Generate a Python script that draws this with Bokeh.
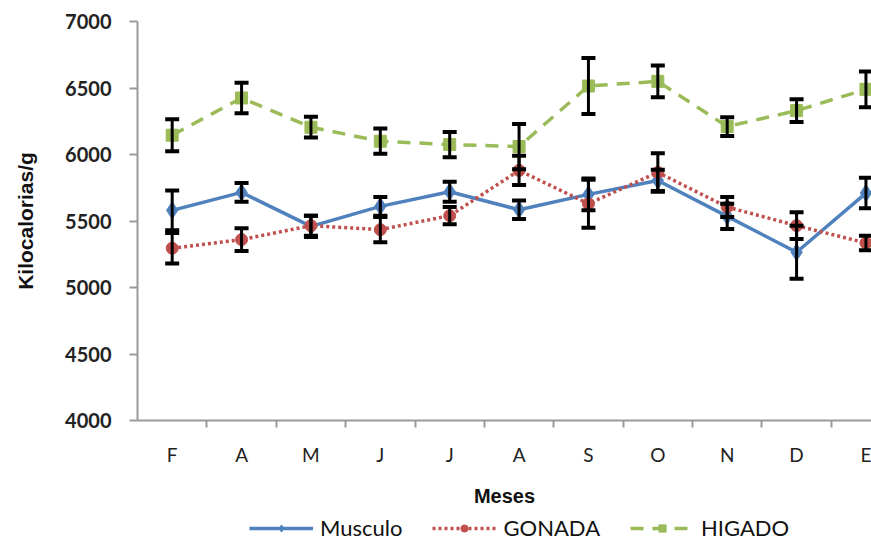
from bokeh.plotting import figure
from bokeh.layouts import column
from bokeh.models import (ColumnDataSource, Range1d, FixedTicker, Whisker, TeeHead,
                          Legend, LegendItem)
from bokeh.embed import file_html
from bokeh.resources import INLINE

months = ["F", "A", "M", "J", "J", "A", "S", "O", "N", "D", "E"]
musculo = [5580, 5715, 5460, 5610, 5720, 5585, 5700, 5805, 5535, 5265, 5710]
musculo_err = [150, 70, 80, 70, 75, 70, 120, 80, 95, 200, 115]
gonada = [5295, 5360, 5465, 5435, 5540, 5880, 5630, 5865, 5605, 5465, 5335]
gonada_err = [115, 85, 75, 95, 65, 110, 180, 145, 75, 100, 55]
higado = [6145, 6425, 6205, 6100, 6075, 6060, 6515, 6550, 6210, 6330, 6490]
higado_err = [120, 115, 78, 95, 95, 170, 210, 120, 70, 85, 135]
y_ticks = [4000, 4500, 5000, 5500, 6000, 6500, 7000]

x = list(range(len(months)))

p = figure(output_backend="svg", toolbar_location=None,
           width=871, height=510,
           x_range=Range1d(-0.5, 10.08), y_range=Range1d(4000, 7000),
           min_border_left=137, min_border_right=0, min_border_top=21,
           min_border_bottom=90)
p.outline_line_color = None
p.xgrid.visible = False
p.ygrid.visible = False
p.background_fill_color = "white"
p.border_fill_color = "white"

# axes
p.yaxis.ticker = FixedTicker(ticks=y_ticks)
p.yaxis.axis_line_color = "#9a9a9a"
p.yaxis.axis_line_width = 2
p.yaxis.major_tick_line_color = "#9a9a9a"
p.yaxis.major_tick_line_width = 2
p.yaxis.major_tick_out = 8
p.yaxis.major_tick_in = 0
p.yaxis.minor_tick_line_color = None
p.yaxis.major_label_text_font = "Lato"
p.yaxis.major_label_text_font_style = "bold"
p.yaxis.major_label_text_font_size = "20px"
p.yaxis.major_label_text_color = "#222222"
p.yaxis.major_label_standoff = 18
p.yaxis.axis_label = "Kilocalorias/g"
p.yaxis.axis_label_text_font = "Liberation Sans"
p.yaxis.axis_label_text_font_style = "bold"
p.yaxis.axis_label_text_font_size = "21px"
p.yaxis.axis_label_text_color = "#111111"
p.yaxis.axis_label_standoff = 25

boundaries = [i + 0.5 for i in range(len(months) - 1)]
p.xaxis.ticker = FixedTicker(ticks=x, minor_ticks=boundaries)
p.xaxis.major_label_overrides = {i: m for i, m in enumerate(months)}
p.xaxis.axis_line_color = "#9a9a9a"
p.xaxis.axis_line_width = 2
p.xaxis.major_tick_line_color = None
p.xaxis.major_tick_out = 0
p.xaxis.major_tick_in = 0
p.xaxis.minor_tick_line_color = "#9a9a9a"
p.xaxis.minor_tick_line_width = 2
p.xaxis.minor_tick_out = 7
p.xaxis.minor_tick_in = 0
p.xaxis.major_label_text_font = "Lato"
p.xaxis.major_label_text_font_size = "19px"
p.xaxis.major_label_text_color = "#222222"
p.xaxis.major_label_standoff = 15
p.xaxis.axis_label = "Meses"
p.xaxis.axis_label_text_font = "Liberation Sans"
p.xaxis.axis_label_text_font_style = "bold"
p.xaxis.axis_label_text_font_size = "20px"
p.xaxis.axis_label_text_color = "#111111"
p.xaxis.axis_label_standoff = 16

# separate strip for the legend
pl = figure(output_backend="svg", toolbar_location=None,
            width=871, height=35,
            x_range=Range1d(100, 101), y_range=Range1d(100, 101),
            min_border=0)
pl.axis.visible = False
pl.grid.visible = False
pl.outline_line_color = None

series = [
    ("Musculo", musculo, musculo_err, "#4F81BD", "solid", "diamond", 17),
    ("GONADA", gonada, gonada_err, "#C0504D", "3 3", "circle", 12),
    ("HIGADO", higado, higado_err, "#9BBB59", "13 9", "square", 12),
]

items = []
for name, vals, errs, color, dash, marker, size in series:
    src = ColumnDataSource(dict(
        x=x, y=vals,
        upper=[v + e for v, e in zip(vals, errs)],
        lower=[v - e for v, e in zip(vals, errs)],
    ))
    w = Whisker(source=src, base="x", upper="upper", lower="lower",
                line_color="black", line_width=3, level="glyph",
                upper_head=TeeHead(size=14, line_color="black", line_width=4),
                lower_head=TeeHead(size=14, line_color="black", line_width=4))
    p.add_layout(w)
    p.line("x", "y", source=src, line_color=color, line_width=3.5,
           line_dash=dash)
    p.scatter("x", "y", source=src, marker=marker, size=size,
              fill_color=color, line_color=color)
    # legend samples (data lie outside this strip's ranges, so only the key shows)
    ln = pl.line("x", "y", source=src, line_color=color, line_width=3.5,
                 line_dash=dash)
    sc = pl.scatter("x", "y", source=src, marker=marker, size=size,
                    fill_color=color, line_color=color)
    items.append(LegendItem(label=name, renderers=[ln, sc]))

legend = Legend(items=items, orientation="horizontal", location=(112, 4),
                label_text_font="Lato", label_text_font_size="22px",
                label_text_color="#111111",
                glyph_width=64, glyph_height=18, spacing=30,
                label_standoff=7,
                border_line_color=None, background_fill_alpha=0,
                margin=0, padding=2, label_height=18)
pl.add_layout(legend, "center")

layout = column(p, pl, spacing=0)
open("out.html", "w").write(file_html(layout, INLINE))
